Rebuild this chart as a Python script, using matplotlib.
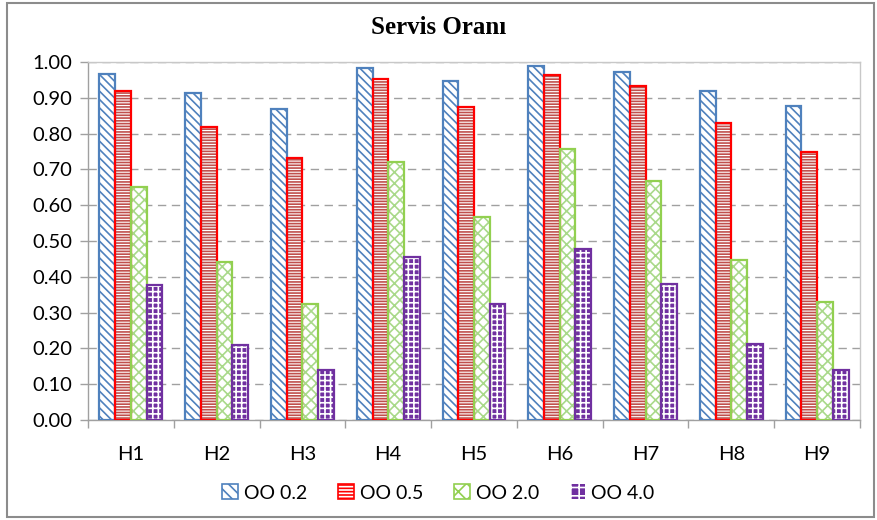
import matplotlib
matplotlib.use("Agg")
import matplotlib.pyplot as plt
import numpy as np
from matplotlib.patches import Rectangle

categories = ["H1", "H2", "H3", "H4", "H5", "H6", "H7", "H8", "H9"]
series_names = ["OO 0.2", "OO 0.5", "OO 2.0", "OO 4.0"]
oo02 = [0.966, 0.913, 0.868, 0.982, 0.946, 0.990, 0.972, 0.920, 0.877]
oo05 = [0.920, 0.818, 0.733, 0.953, 0.873, 0.965, 0.934, 0.830, 0.748]
oo20 = [0.650, 0.440, 0.323, 0.722, 0.568, 0.758, 0.668, 0.448, 0.330]
oo40 = [0.378, 0.210, 0.140, 0.455, 0.323, 0.477, 0.380, 0.213, 0.140]
yticks = [0.0, 0.1, 0.2, 0.3, 0.4, 0.5, 0.6, 0.7, 0.8, 0.9, 1.0]

plt.rcParams['font.family'] = ['Lato', 'DejaVu Sans']
plt.rcParams['hatch.linewidth'] = 1.2

fig = plt.figure(figsize=(8.77, 5.20), dpi=100)
ax = fig.add_axes([88/877, 1-420/520, (860-88)/877, (420-62)/520])

fig.patches.append(Rectangle((7/877, 3/520), 867/877, 514/520, transform=fig.transFigure,
                             fill=False, edgecolor='#8c8c8c', linewidth=1.5))

x = np.arange(len(categories))
w = 0.183
edge_cols = ['#4f81bd', '#ff0000', '#92d050', '#7030a0']
data = [oo02, oo05, oo20, oo40]
handles = []
for i, vals in enumerate(data):
    pos = x + (i - 1.5) * w
    ec = edge_cols[i]
    if i == 1:
        ax.bar(pos, vals, w, facecolor='white', edgecolor='#c0504d', hatch='------', linewidth=0, zorder=3)
        h = ax.bar([0], [0], 0, facecolor='white', edgecolor=ec, hatch='-----', linewidth=1.2)
    elif i == 3:
        ax.bar(pos, vals, w, facecolor='#7030a0', edgecolor='white', hatch='+++', linewidth=0, zorder=3)
        h = ax.bar([0], [0], 0, facecolor='#7030a0', edgecolor='white', hatch='++', linewidth=0)
    elif i == 2:
        ax.bar(pos, vals, w, facecolor='white', edgecolor='#a9d98a', hatch='xxx', linewidth=0, zorder=3)
        h = ax.bar([0], [0], 0, facecolor='white', edgecolor=ec, hatch='xx', linewidth=1.2)
    else:
        ax.bar(pos, vals, w, facecolor='white', edgecolor=ec, hatch='\\\\\\\\', linewidth=0, zorder=3)
        h = ax.bar([0], [0], 0, facecolor='white', edgecolor=ec, hatch='\\\\\\', linewidth=1.2)
    ax.bar(pos, vals, w, facecolor='none', edgecolor=ec, linewidth=1.6, zorder=4)
    handles.append(h)

ax.set_xlim(-0.5, len(categories) - 0.5)
ax.set_ylim(0, 1.0)
ax.set_yticks(yticks)
ax.set_yticklabels([f"{v:.2f}" for v in yticks], fontsize=14.5)
ax.set_xticks(x)
ax.set_xticklabels(categories, fontsize=14.5)
ax.set_xticks(np.arange(-0.5, len(categories)), minor=True)
ax.tick_params(axis='x', which='major', length=0, pad=19)
ax.tick_params(axis='x', which='minor', length=6, color='#a0a0a0', width=1)
ax.tick_params(axis='y', length=6, color='#a0a0a0', width=1, pad=5)
ax.yaxis.grid(True, linestyle=(0, (6, 4)), color='#a0a0a0', linewidth=1, zorder=0)
ax.set_axisbelow(True)
for s in ['left', 'bottom']:
    ax.spines[s].set_color('#a0a0a0')
for s in ['top', 'right']:
    ax.spines[s].set_color('#c8c8c8')
for s in ax.spines.values():
    s.set_linewidth(1)

fig.text(0.5, 1-27/520, "Servis Oranı", ha='center', va='center', fontsize=18,
         fontweight='bold', family=['Liberation Serif', 'DejaVu Serif'])

fig.legend(handles, series_names, loc='center', bbox_to_anchor=(0.5, 1-493/520),
           ncol=4, frameon=False, fontsize=14, handlelength=0.8, handleheight=0.8,
           handletextpad=0.3, columnspacing=1.6)

fig.savefig("out.png", dpi=100)
